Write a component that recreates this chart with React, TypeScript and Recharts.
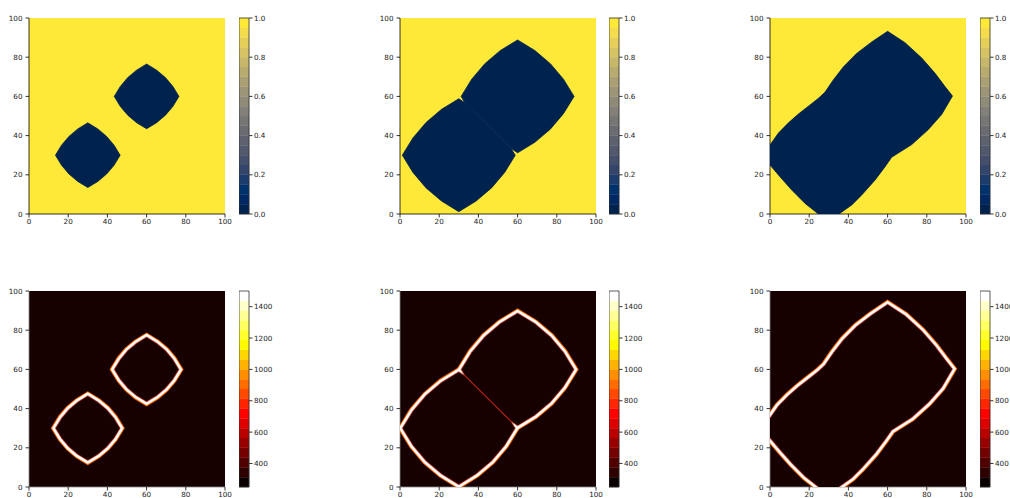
// LevelSetFigure.tsx — two seeds growing and merging: phi (top) and |grad| (bottom)

import { ScatterChart, Scatter, XAxis, YAxis, CartesianGrid } from 'recharts'

// front outlines, [x, y]
const frontA1 = [
  [13.5, 30], [16.6, 35.1], [20.4, 39.6], [24.9, 43.4], [30, 46.5], [35.1, 43.4], [39.6, 39.6], [43.4, 35.1],
  [46.5, 30], [43.4, 24.9], [39.6, 20.4], [35.1, 16.6], [30, 13.5], [24.9, 16.6], [20.4, 20.4], [16.6, 24.9],
]
const frontB1 = [
  [43.5, 60], [46.6, 65.1], [50.4, 69.6], [54.9, 73.4], [60, 76.5], [65.1, 73.4], [69.6, 69.6], [73.4, 65.1],
  [76.5, 60], [73.4, 54.9], [69.6, 50.4], [65.1, 46.6], [60, 43.5], [54.9, 46.6], [50.4, 50.4], [46.6, 54.9],
]
// second snapshot: the two fronts touch along x + y ~ 90
const frontA2 = [
  [1.2, 30], [6.6, 38.8], [13.3, 46.7], [21.2, 53.4], [30, 58.8], [33.1, 56.8], [44.9, 45.1], [56.6, 33.5],
  [58.8, 30], [53.4, 21.2], [46.7, 13.3], [38.8, 6.6], [30, 1.2], [21.2, 6.6], [13.3, 13.3], [6.6, 21.2],
]
const frontB2 = [
  [31.2, 60], [36.6, 68.8], [43.3, 76.7], [51.2, 83.4], [60, 88.8], [68.8, 83.4], [76.7, 76.7], [83.4, 68.8],
  [88.8, 60], [83.4, 51.2], [76.7, 43.3], [68.8, 36.6], [60, 31.2], [56.6, 33.5], [44.9, 45.1], [33.1, 56.8],
]
const frontC3 = [
  [-3.5, 29.8], [0, 35.2], [4.3, 41.3], [9.4, 46.5], [14.5, 51.0], [19.6, 55.0], [24.7, 59.0], [28.1, 62.2],
  [32.3, 68.4], [37.4, 75.0], [44.2, 81.9], [51.9, 87.8], [60, 93.2], [68.9, 87.4], [77.4, 79.6], [84.2, 71.8],
  [89.3, 65.0], [93.1, 60.2], [87.6, 50.8], [80.8, 43.1], [72.3, 35.4], [62.1, 29.0], [58.7, 24.1], [53.6, 17.3],
  [46.8, 9.7], [41.7, 4.6], [35.2, 0], [29.5, -3.5], [24.7, 0], [17.9, 5.4], [11.1, 12.2], [5.1, 19.0], [0, 25.0],
]

const axisTicks = [0, 20, 40, 60, 80, 100]
const phiTicks = [0, 0.2, 0.4, 0.6, 0.8, 1.0]
const phiLevels = [
  0, 0.05, 0.1, 0.15, 0.2, 0.25, 0.3, 0.35, 0.4, 0.45, 0.5, 0.55, 0.6, 0.65, 0.7, 0.75, 0.8, 0.85, 0.9, 0.95, 1,
]
const gradTicks = [400, 600, 800, 1000, 1200, 1400]
const gradLevels = [
  250, 312.5, 375, 437.5, 500, 562.5, 625, 687.5, 750, 812.5, 875, 937.5, 1000, 1062.5, 1125, 1187.5, 1250,
  1312.5, 1375, 1437.5, 1500,
]

// colormaps
const CIVIDIS = [
  [0, 34, 78], [0, 42, 102], [0, 52, 110], [39, 63, 108], [60, 74, 107], [76, 85, 107], [91, 95, 109],
  [104, 106, 112], [117, 117, 117], [131, 129, 120], [146, 140, 120], [161, 152, 118], [176, 165, 114],
  [192, 177, 109], [209, 191, 102], [225, 204, 92], [243, 219, 79], [254, 232, 56],
]
const rgb = (r: number, g: number, b: number) =>
  `rgb(${Math.round(r)},${Math.round(g)},${Math.round(b)})`
const cividis = (t: number) => {
  const p = t * (CIVIDIS.length - 1)
  const i = Math.min(Math.floor(p), CIVIDIS.length - 2)
  const f = p - i
  const a = CIVIDIS[i]
  const b = CIVIDIS[i + 1]
  return rgb(a[0] + (b[0] - a[0]) * f, a[1] + (b[1] - a[1]) * f, a[2] + (b[2] - a[2]) * f)
}
const hot = (t: number) => {
  const r = t < 0.365079 ? 0.0416 + (t / 0.365079) * 0.9584 : 1
  const g = t < 0.365079 ? 0 : t < 0.746032 ? (t - 0.365079) / 0.380953 : 1
  const b = t < 0.746032 ? 0 : (t - 0.746032) / 0.253968
  return rgb(r * 255, g * 255, b * 255)
}
const bands = (cmap: (t: number) => string, n: number) =>
  Array.from({ length: n }, (_, i) => cmap(i / (n - 1)))

const NAVY = cividis(0)
const YELLOW = cividis(1)
const DARK = '#170000'

const tickStyle = { fontSize: 7.2, fill: '#222', fontFamily: 'DejaVu Sans' }
const toXY = (pts: number[][]) => pts.map(([x, y]) => ({ x, y }))
const noDot = () => <g />

type Layer = { pts: number[][]; fill?: string; stroke?: string; width?: number; opacity?: number }

const fillLayers = (fronts: number[][][]): Layer[] =>
  fronts.map((pts) => ({ pts, fill: NAVY, stroke: NAVY, width: 0.8 }))
const outlineLayers = (fronts: number[][][]): Layer[] => [
  ...fronts.map((pts) => ({ pts, stroke: '#ff6a00', width: 8 })),
  ...fronts.map((pts) => ({ pts, stroke: '#ffffff', width: 6 })),
  ...fronts.map((pts) => ({ pts, fill: DARK })),
  ...fronts.map((pts) => ({ pts, stroke: '#d41c00', width: 1.3, opacity: 0.45 })),
]

const Poly = (l: Layer, key: number | string) => (
  <Scatter
    key={key}
    data={toXY(l.pts)}
    shape={noDot}
    fill={l.fill ?? 'none'}
    line={{
      fill: l.fill ?? 'none',
      stroke: l.stroke ?? 'none',
      strokeWidth: l.width ?? 0,
      strokeOpacity: l.opacity ?? 1,
    }}
    lineJointType="linearClosed"
    isAnimationActive={false}
  />
)

const Panel = ({ left, top, bg, frame, layers }: { left: number; top: number; bg: string; frame: string; layers: Layer[] }) => (
  <div style={{ position: 'absolute', left: left - 40, top: top - 10 }}>
    <ScatterChart width={246} height={236} margin={{ top: 10, right: 10, bottom: 0, left: 0 }}>
      <CartesianGrid fill={bg} horizontal={false} vertical={false} stroke="none" />
      <XAxis
        type="number"
        dataKey="x"
        domain={[0, 100]}
        ticks={axisTicks}
        interval={0}
        allowDataOverflow
        height={30}
        tickSize={3.5}
        tickMargin={1}
        tick={tickStyle}
        axisLine={{ stroke: frame, strokeWidth: 0.8 }}
        tickLine={{ stroke: '#000', strokeWidth: 0.8 }}
      />
      <XAxis xAxisId="top" orientation="top" type="number" domain={[0, 100]} height={0} tick={false} tickLine={false} axisLine={{ stroke: frame, strokeWidth: 0.8 }} />
      <YAxis
        type="number"
        dataKey="y"
        domain={[0, 100]}
        ticks={axisTicks}
        interval={0}
        allowDataOverflow
        width={40}
        tickSize={3.5}
        tickMargin={3}
        tick={tickStyle}
        axisLine={{ stroke: frame, strokeWidth: 0.8 }}
        tickLine={{ stroke: '#000', strokeWidth: 0.8 }}
      />
      <YAxis yAxisId="right" orientation="right" type="number" domain={[0, 100]} width={0} tick={false} tickLine={false} axisLine={{ stroke: frame, strokeWidth: 0.8 }} />
      {layers.map((l, i) => Poly(l, i))}
    </ScatterChart>
  </div>
)

const Colorbar = ({ left, top, levels, colors, ticks, fmt }: {
  left: number; top: number; levels: number[]; colors: string[]; ticks: number[]; fmt?: (v: number) => string
}) => {
  const lo = levels[0]
  const hi = levels[levels.length - 1]
  return (
    <div style={{ position: 'absolute', left, top: top - 10 }}>
      <ScatterChart width={40} height={216} margin={{ top: 10, right: 0, bottom: 10, left: 0 }}>
        <XAxis type="number" dataKey="x" domain={[0, 1]} hide />
        <YAxis
          type="number"
          dataKey="y"
          orientation="right"
          domain={[lo, hi]}
          ticks={ticks}
          interval={0}
          width={30}
          tickSize={3.5}
          tickMargin={1.5}
          tick={tickStyle}
          tickFormatter={fmt}
          axisLine={false}
          tickLine={{ stroke: '#000', strokeWidth: 0.8 }}
        />
        {colors.map((c, i) =>
          Poly(
            {
              pts: [[0, levels[i]], [1, levels[i]], [1, levels[i + 1]], [0, levels[i + 1]]],
              fill: c,
              stroke: c,
              width: 0.4,
            },
            i,
          ),
        )}
        {Poly({ pts: [[0, lo], [1, lo], [1, hi], [0, hi]], stroke: '#333', width: 0.8 }, 'frame')}
      </ScatterChart>
    </div>
  )
}

const cols = [29, 400, 770]
const cbars = [239, 609, 980]
const rows = [18, 291]

export default function App() {
  const phiColors = bands(cividis, 20)
  const gradColors = bands(hot, 20)
  const top = [fillLayers([frontA1, frontB1]), fillLayers([frontA2, frontB2]), fillLayers([frontC3])]
  const bottom = [outlineLayers([frontA1, frontB1]), outlineLayers([frontA2, frontB2]), outlineLayers([frontC3])]
  return (
    <div style={{ position: 'absolute', left: 0, top: 0, width: 1010, height: 498, overflow: 'hidden', background: '#fff' }}>
      {cols.map((x, i) => (
        <Panel key={`t${i}`} left={x} top={rows[0]} bg={YELLOW} frame="#000" layers={top[i]} />
      ))}
      {cbars.map((x, i) => (
        <Colorbar key={`ct${i}`} left={x} top={rows[0]} levels={phiLevels} colors={phiColors} ticks={phiTicks} fmt={(v) => v.toFixed(1)} />
      ))}
      {cols.map((x, i) => (
        <Panel key={`b${i}`} left={x} top={rows[1]} bg={DARK} frame="#888" layers={bottom[i]} />
      ))}
      {cbars.map((x, i) => (
        <Colorbar key={`cb${i}`} left={x} top={rows[1]} levels={gradLevels} colors={gradColors} ticks={gradTicks} />
      ))}
    </div>
  )
}
